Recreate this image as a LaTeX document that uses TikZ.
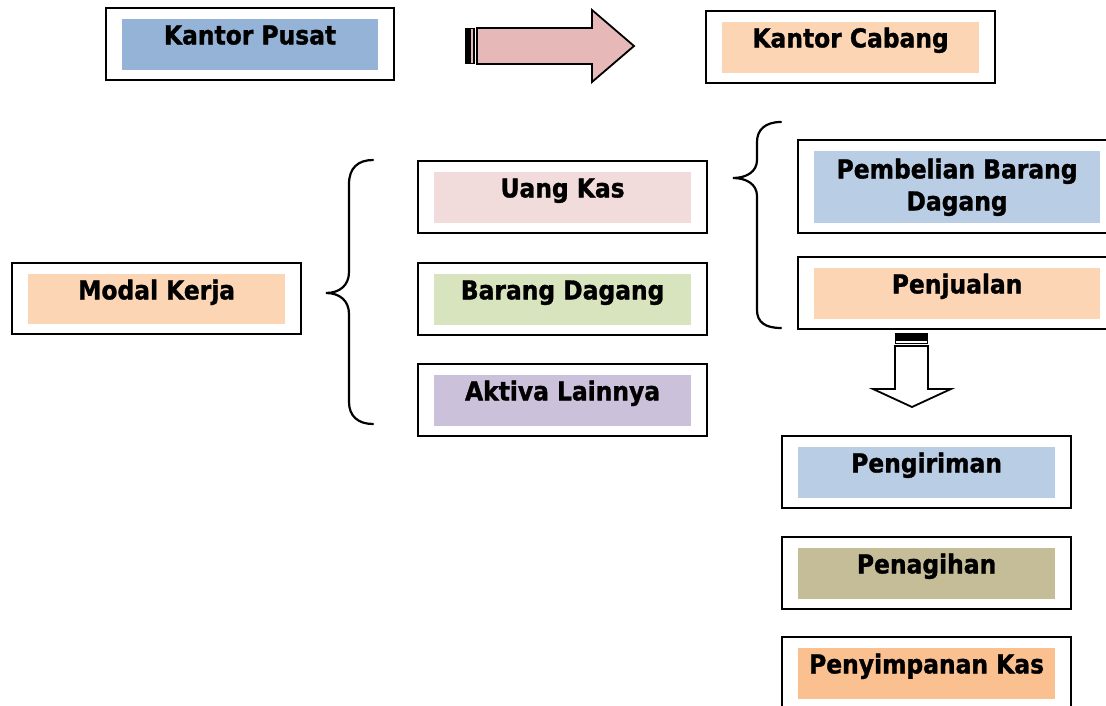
\documentclass[tikz,border=0pt]{standalone}
\usepackage{fontspec}
\setmainfont{DejaVu Sans Condensed}[BoldFont={DejaVu Sans Condensed Bold},BoldFeatures={FakeBold=1.2}]
\begin{document}
\begin{tikzpicture}[x=1pt,y=-1pt,
  outerbox/.style={draw=black,line width=2.2pt,fill=white,inner sep=0pt,anchor=north west},
  fillbox/.style={inner sep=0pt,draw=none},
  label/.style={anchor=base,inner sep=0pt,font=\fontsize{26}{32}\selectfont\bfseries},
  bracepath/.style={line width=2.2pt,line cap=round},
  arrowline/.style={draw=black,line width=1.8pt,line join=miter}]
\definecolor{pusatblue}{HTML}{95B3D7}
\definecolor{peach}{HTML}{FCD5B4}
\definecolor{kaspink}{HTML}{F2DCDB}
\definecolor{dagangreen}{HTML}{D7E4BD}
\definecolor{aktivalilac}{HTML}{CCC1DA}
\definecolor{lightblue}{HTML}{B9CDE5}
\definecolor{tagihtan}{HTML}{C4BD97}
\definecolor{simpanorange}{HTML}{FAC090}
\definecolor{arrowpink}{HTML}{E6B9B8}
\useasboundingbox (0,0) rectangle (1106,706);

% box: name, x, y, width, height, fill colour, text
\newcommand{\infobox}[7]{%
  \node[outerbox,minimum width=#4pt,minimum height=#5pt] (#1) at (#2,#3) {};
  \node[fillbox,fill=#6,minimum width=#4pt-32pt,minimum height=#5pt-21pt] (#1-in) at (#1.center) {};
  \node[label] (#1-t) at ([yshift=-26pt]#1-in.north) {#7};}

\infobox{pusat}{105}{7}{288}{72}{pusatblue}{Kantor Pusat}
\infobox{cabang}{705}{10}{289}{72}{peach}{Kantor Cabang}
\infobox{modal}{11}{262}{289}{71}{peach}{Modal Kerja}
\infobox{kas}{417}{160}{289}{72}{kaspink}{Uang Kas}
\infobox{barang}{417}{262}{289}{72}{dagangreen}{Barang Dagang}
\infobox{aktiva}{417}{363}{289}{72}{aktivalilac}{Aktiva Lainnya}
\infobox{jual}{797}{256}{318}{72}{peach}{Penjualan}
\infobox{kirim}{781}{435}{289}{72}{lightblue}{Pengiriman}
\infobox{tagih}{781}{536}{289}{72}{tagihtan}{Penagihan}
\infobox{simpan}{781}{636}{289}{72}{simpanorange}{Penyimpanan Kas}

% two-line box
\node[outerbox,minimum width=318pt,minimum height=93pt] (beli) at (797,139) {};
\node[fillbox,fill=lightblue,minimum width=286pt,minimum height=72pt] (beli-in) at (beli.center) {};
\node[label] (beli-t1) at ([yshift=-28pt]beli-in.north) {Pembelian Barang};
\node[label] (beli-t2) at ([yshift=-32pt]beli-t1.base) {Dagang};

% striped arrow from head office to branch
\fill[black] (465,28) rectangle (469.5,64);
\draw[fill=arrowpink,line width=1.2pt] (470.5,28.5) rectangle (474,63.5);
\draw[arrowline,fill=arrowpink] (477,28) -- (592,28) -- (592,10) -- (634,46)
  -- (592,82) -- (592,64) -- (477,64) -- cycle;

% braces
\draw[bracepath] (373,160) .. controls (358,160) and (349,168) .. (349,184)
  -- (349,272) .. controls (349,285) and (340,293) .. (326,293)
  .. controls (340,293) and (349,301) .. (349,314)
  -- (349,402) .. controls (349,416) and (358,424) .. (373,424);
\draw[bracepath] (781,122) .. controls (765,122) and (757,130) .. (757,142)
  -- (757,160) .. controls (757,172) and (746,178) .. (733,178)
  .. controls (746,178) and (757,184) .. (757,196)
  -- (757,310) .. controls (757,322) and (765,328) .. (781,328);

% striped arrow pointing down
\fill[black] (895,333) rectangle (928,338.5);
\draw[fill=white,line width=1.2pt] (895.5,340) rectangle (927.5,343.5);
\draw[arrowline,fill=white] (895,346) -- (928,346) -- (928,389) -- (951,389)
  -- (912,407) -- (873,389) -- (895,389) -- cycle;
\end{tikzpicture}
\end{document}
